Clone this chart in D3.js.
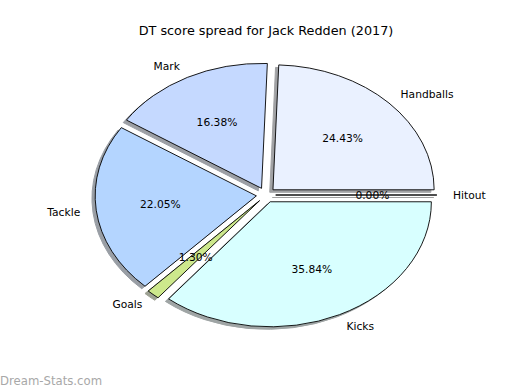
<!DOCTYPE html>
<html>
<head>
<meta charset="utf-8">
<script src="https://cdnjs.cloudflare.com/ajax/libs/d3/7.8.5/d3.min.js"></script>
<style>
  body { margin: 0; background: #fff; }
  text { font-family: "DejaVu Sans", sans-serif; fill: #000; }
</style>
</head>
<body>
<div id="chart"></div>
<script>
// data
var categories = ["Handballs", "Mark", "Tackle", "Goals", "Kicks", "Hitout"];
var shares = [24.43, 16.38, 22.05, 1.30, 35.84, 0.00];
var colors = ["#eaf1ff", "#c5d9ff", "#b4d5ff", "#cde88c", "#d8ffff", "#e8e8e8"];
var explode = 0.06;
var title = "DT score spread for Jack Redden (2017)";

var svgWidth = 520;
var svgHeight = 390;

var svg = d3.select("#chart")
  .append("svg")
  .attr("width", svgWidth)
  .attr("height", svgHeight);

// data coords -> pixels (pie of radius 1, axes not equal so it is an ellipse)
var xScale = d3.scaleLinear().domain([-1.25, 1.25]).range([64.5, 467.5]);
var yScale = d3.scaleLinear().domain([-1.25, 1.25]).range([351.25, 38.75]);
var kx = xScale(1) - xScale(0);
var ky = yScale(0) - yScale(1);

// matplotlib style: start at 3 o'clock, counter-clockwise
var pie = d3.pie()
  .sort(null)
  .value(d => d.v)
  .startAngle(Math.PI / 2)
  .endAngle(Math.PI / 2 - 2 * Math.PI);

var arcs = pie(categories.map((c, i) => ({ name: c, v: shares[i], color: colors[i] })));

var arc = d3.arc().innerRadius(0).outerRadius(1);

// mid angle in math convention
arcs.forEach(function(d) {
  var a = (d.startAngle + d.endAngle) / 2;
  d.theta = Math.PI / 2 - a;
  d.ox = explode * Math.cos(d.theta);
  d.oy = explode * Math.sin(d.theta);
});

function darker(c) {
  var rgb = d3.rgb(c);
  return d3.rgb(rgb.r * 0.3, rgb.g * 0.3, rgb.b * 0.3).toString();
}

// shadows first, under every wedge
svg.append("g").selectAll("path")
  .data(arcs)
  .enter()
  .append("path")
  .attr("transform", d => `translate(${xScale(d.ox - 0.02)}, ${yScale(d.oy - 0.02)}) scale(${kx}, ${ky})`)
  .attr("d", arc)
  .attr("fill", d => darker(d.data.color))
  .attr("stroke", d => darker(d.data.color))
  .attr("stroke-width", 1)
  .attr("vector-effect", "non-scaling-stroke")
  .attr("opacity", 0.5);

svg.append("g").selectAll("path")
  .data(arcs)
  .enter()
  .append("path")
  .attr("transform", d => `translate(${xScale(d.ox)}, ${yScale(d.oy)}) scale(${kx}, ${ky})`)
  .attr("d", arc)
  .attr("fill", d => d.data.color)
  .attr("stroke", "#000")
  .attr("stroke-width", 0.9)
  .attr("stroke-linejoin", "round")
  .attr("vector-effect", "non-scaling-stroke");

// category labels at 1.1 radius
svg.append("g").selectAll("text")
  .data(arcs)
  .enter()
  .append("text")
  .attr("x", d => xScale(d.ox + 1.1 * Math.cos(d.theta)))
  .attr("y", d => yScale(d.oy + 1.1 * Math.sin(d.theta)))
  .attr("dy", "0.36em")
  .attr("text-anchor", d => Math.cos(d.theta) > 0 ? "start" : "end")
  .attr("font-size", "10.7px")
  .text(d => d.data.name);

// percentages at 0.6 radius
svg.append("g").selectAll("text")
  .data(arcs)
  .enter()
  .append("text")
  .attr("x", d => xScale(d.ox + 0.6 * Math.cos(d.theta)))
  .attr("y", d => yScale(d.oy + 0.6 * Math.sin(d.theta)))
  .attr("dy", "0.36em")
  .attr("text-anchor", "middle")
  .attr("font-size", "10.7px")
  .text(d => d.data.v.toFixed(2) + "%");

svg.append("text")
  .attr("x", xScale(0))
  .attr("y", 35)
  .attr("text-anchor", "middle")
  .attr("font-size", "12.8px")
  .text(title);

svg.append("text")
  .attr("x", 0)
  .attr("y", 385)
  .attr("font-size", "11.7px")
  .style("fill", "#a8a8a8")
  .text("Dream-Stats.com");
</script>
</body>
</html>
